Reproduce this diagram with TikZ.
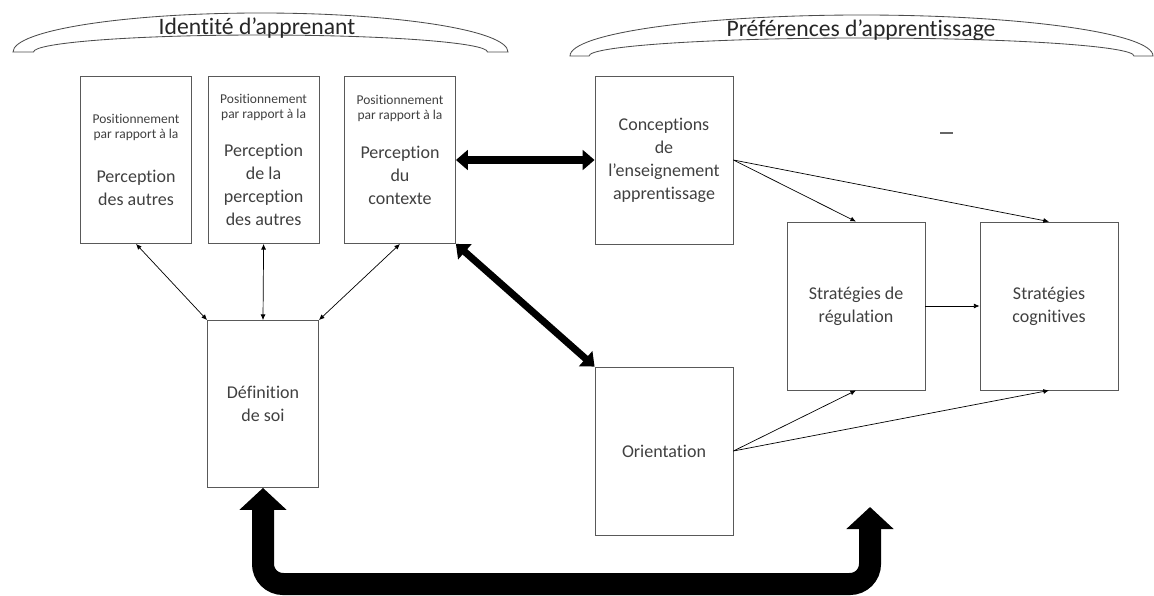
\documentclass[tikz,border=0pt]{standalone}
\usepackage{fontspec}
\setmainfont{Carlito}[Ligatures=NoCommon]
\usetikzlibrary{arrows.meta}
\newcommand{\petit}{\fontsize{9.6}{10.7}\selectfont}
\newcommand{\grand}{\fontsize{12.8}{16.4}\selectfont}
\newcommand{\titre}{\fontsize{16.8}{20}\selectfont}

\tikzset{
  boite/.style={draw=black!65, line width=0.6pt, text=black!75, align=center, font=\grand},
  etroite/.style={boite, minimum width=2.775cm, minimum height=4.175cm},
  boitelarge/.style={boite, minimum width=3.45cm, minimum height=4.2cm},
  bande/.style={draw=black!70, line width=0.6pt},
  fleche/.style={line width=0.5pt, -{Latex[length=4pt,width=3.5pt]}},
  fleches/.style={line width=0.5pt, {Latex[length=4pt,width=3.5pt]}-{Latex[length=4pt,width=3.5pt]}},
  epaisse/.style={line width=5pt, {Triangle[length=8.5pt,width=14pt]}-{Triangle[length=8.5pt,width=14pt]}},
  boucle/.style={line width=0.55cm, rounded corners=0.5cm, {Triangle[length=0.55cm,width=1.15cm]}-{Triangle[length=0.55cm,width=1.15cm]}}
}

\begin{document}
\begin{tikzpicture}
  \useasboundingbox (0,0) rectangle (28.85,-14.9);

  \draw[bande] (0.325,-1.3) arc[start angle=180, end angle=0, x radius=6.1875cm, y radius=0.975cm]
    -- (12.1875,-1.3) arc[start angle=0, end angle=180, x radius=5.675cm, y radius=0.425cm] -- cycle;
  \draw[bande] (14.25,-1.4) arc[start angle=180, end angle=0, x radius=7.2875cm, y radius=1.025cm]
    -- (28.35,-1.4) arc[start angle=0, end angle=180, x radius=6.8125cm, y radius=0.45cm] -- cycle;
  \node[anchor=base, font=\titre, text=black!85] (identite) at (6.425,-0.875) {Identité d’apprenant};
  \node[anchor=base, font=\titre, text=black!85] (preferences) at (21.525,-0.925) {Préférences d’apprentissage};

  \node[etroite] (autres) at (3.4,-4.0) {\petit Positionnement\\[-5.7pt]\petit par rapport à la\\[15pt]\grand Perception\\\grand des autres};
  \node[etroite] (percautres) at (6.59,-4.0) {\petit Positionnement\\[-5.7pt]\petit par rapport à la\\[11pt]\grand Perception\\\grand de la\\\grand perception\\\grand des autres};
  \node[etroite] (contexte) at (10.0,-4.0) {\petit Positionnement\\[-5.7pt]\petit par rapport à la\\[11pt]\grand Perception\\\grand du\\\grand contexte\\[-7pt]\grand \strut};
  \node[boitelarge] (conceptions) at (16.6,-4.0) {Conceptions\\de\\l’enseignement\\apprentissage};
  \node[boitelarge] (regulation) at (21.4,-7.65) {Stratégies de\\régulation};
  \node[boitelarge] (cognitives) at (26.225,-7.65) {Stratégies\\cognitives};
  \node[etroite] (soi) at (6.575,-10.1) {Définition\\de soi};
  \node[boitelarge] (orientation) at (16.6,-11.275) {Orientation};

  \draw[black!60, line width=0.8pt] (23.5,-3.325) -- (23.825,-3.325);

  \draw[fleches] (autres.south) -- (soi.north west);
  \draw[fleches] (percautres.south) -- (soi.north);
  \draw[fleches] (contexte.south) -- (soi.north east);
  \draw[fleche] (conceptions.east) -- (regulation.north);
  \draw[fleche] (conceptions.east) -- (cognitives.north);
  \draw[fleche] (orientation.east) -- (regulation.south);
  \draw[fleche] (orientation.east) -- (cognitives.south);
  \draw[fleche] (regulation) -- (cognitives);

  \draw[epaisse] (contexte.east) -- (conceptions.west);
  \draw[epaisse] (contexte.south east) -- (orientation.north west);

  \coordinate (coin) at (21.75,-14.6);
  \coordinate (pref) at (21.75,-12.675);
  \draw[boucle] (soi.south) -- (soi.south |- coin) -- (coin) -- (pref);
\end{tikzpicture}
\end{document}
